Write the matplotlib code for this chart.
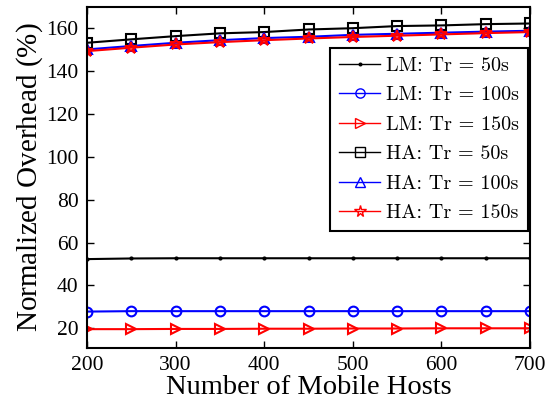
import matplotlib
matplotlib.use("Agg")
from matplotlib import pyplot as plt
from matplotlib.font_manager import FontProperties

plt.rcParams['font.family'] = 'Liberation Serif'
plt.rcParams['mathtext.fontset'] = 'custom'
plt.rcParams['mathtext.rm'] = 'Liberation Serif'
plt.rcParams['mathtext.it'] = 'Liberation Serif:italic'

hosts = [200, 250, 300, 350, 400, 450, 500, 550, 600, 650, 700]

# location management overhead
lm_50 = [52.3, 52.6, 52.7, 52.7, 52.7, 52.7, 52.7, 52.7, 52.7, 52.7, 52.7]
lm_100 = [27.8, 28.0, 28.0, 28.0, 28.0, 28.0, 28.0, 28.0, 28.0, 28.0, 28.0]
lm_150 = [19.6, 19.6, 19.7, 19.7, 19.8, 19.8, 19.9, 19.9, 20.0, 20.0, 20.0]

# home agent overhead
ha_50 = [153.3, 154.9, 156.4, 157.7, 158.3, 159.5, 160.1, 161.1, 161.4, 162.0, 162.3]
ha_100 = [150.2, 151.8, 153.3, 154.5, 155.5, 156.1, 157.0, 157.5, 158.0, 158.5, 158.9]
ha_150 = [149.4, 151.0, 152.5, 153.6, 154.5, 155.3, 156.0, 156.6, 157.2, 157.8, 158.3]

labels = ['LM: Tr = 50s', 'LM: Tr = 100s', 'LM: Tr = 150s',
          'HA: Tr = 50s', 'HA: Tr = 100s', 'HA: Tr = 150s']

fig = plt.figure(figsize=(5.53, 4.04), dpi=100)
ax = fig.add_axes([87 / 553, 1 - 348 / 404, (530 - 87) / 553, (348 - 7) / 404])

ax.plot(hosts, lm_50, color='black', marker='.', markersize=4, linewidth=1.5, label=labels[0])
ax.plot(hosts, lm_100, color='blue', marker='o', markersize=7, markerfacecolor='none',
        markeredgewidth=1.5, linewidth=1.5, label=labels[1])
ax.plot(hosts, lm_150, color='red', marker='>', markersize=7, markerfacecolor='none',
        markeredgewidth=1.5, linewidth=1.5, label=labels[2])
ax.plot(hosts, ha_50, color='black', marker='s', markersize=7, markerfacecolor='none',
        markeredgewidth=1.5, linewidth=1.5, label=labels[3])
ax.plot(hosts, ha_100, color='blue', marker='^', markersize=7, markerfacecolor='none',
        markeredgewidth=1.5, linewidth=1.5, label=labels[4])
ax.plot(hosts, ha_150, color='red', marker='*', markersize=9, markerfacecolor='none',
        markeredgewidth=1.5, linewidth=1.5, label=labels[5])

ax.set_xlim(200, 700)
ax.set_ylim(10.8, 170)
ax.set_xticks(range(200, 701, 100))
ax.set_yticks(range(20, 161, 20))
ax.tick_params(direction='in', top=True, right=True, length=5, width=1, labelsize=15.5, pad=6)
for s in ax.spines.values():
    s.set_linewidth(1.5)

ax.set_xlabel('Number of Mobile Hosts', fontsize=20.5, labelpad=0)
ax.set_ylabel(r'Normalized Overhead ($\mathit{\%}$)', fontsize=21, labelpad=1)

# legend text in Computer Modern
lp = FontProperties(family='cmr10', size=14.5)
leg = ax.legend(loc='upper right', bbox_to_anchor=(0.995, 0.88), borderaxespad=0, prop=lp,
                fancybox=False, edgecolor='black', framealpha=1, handlelength=2.0,
                handletextpad=0.3, labelspacing=0.56, markerscale=0.95, borderpad=0.45)
leg.get_frame().set_linewidth(1.5)
for h in leg.get_lines():
    h.set_linewidth(1.0)
    h.set_markeredgewidth(1.0)

fig.savefig('out.png', dpi=100)
